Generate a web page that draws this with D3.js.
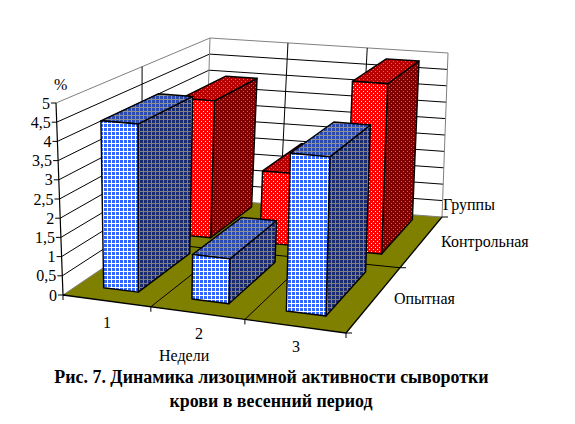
<!DOCTYPE html>
<html><head><meta charset="utf-8">
<script src="https://cdn.jsdelivr.net/npm/d3@7"></script>
<style>html,body{margin:0;padding:0;background:#fff}svg{display:block}text{font-family:"Liberation Serif",serif;fill:#000}</style>
</head><body><script>
const weeks = ["1","2","3"];
const groups = ["Опытная","Контрольная"];
const opytnaya = [4.4,1.15,4.0];
const kontrolnaya = [3.95,2.05,4.8];
const valueTicks = [0,0.5,1,1.5,2,2.5,3,3.5,4,4.5,5];
const tickLabels = ["0","0,5","1","1,5","2","2,5","3","3,5","4","4,5","5"];

const W=575,H=424;
const svg=d3.select("body").append("svg").attr("width",W).attr("height",H);
const floorQ=[[63,295],[346,333],[442,217],[205,199]];
const topQ=[[56,103],[350,128],[448,53],[210,38]];
function homography(q){
  const [[x0,y0],[x1,y1],[x2,y2],[x3,y3]]=q;
  const dx1=x1-x2,dx2=x3-x2,sx=x0-x1+x2-x3,dy1=y1-y2,dy2=y3-y2,sy=y0-y1+y2-y3;
  const den=dx1*dy2-dx2*dy1;
  const g=(sx*dy2-dx2*sy)/den,h=(dx1*sy-sx*dy1)/den;
  const a=x1-x0+g*x1,b=x3-x0+h*x3,d=y1-y0+g*y1,e=y3-y0+h*y3;
  return (u,v)=>{const w=g*u+h*v+1;return [(a*u+b*v+x0)/w,(d*u+e*v+y0)/w];};
}
const H0=homography(floorQ),H1=homography(topQ);
const zS=d3.scaleLinear().domain([0,5]).range([0,1]);
const uS=d3.scaleBand().domain(weeks).range([0,1]).paddingInner(0.6).paddingOuter(0.3);
const vS=d3.scaleBand().domain(groups).range([0,1]).paddingInner(0.314).paddingOuter(0.137).align(0.64);
const uWarp=d3.scaleLinear().domain([0,1/3,2/3,1]).range([0,0.342,0.675,1]);
function P(u,v,val){const w=uWarp(u),a=H0(w,v),b=H1(w,v),t=zS(val);return [a[0]+(b[0]-a[0])*t,a[1]+(b[1]-a[1])*t];}
const line=d3.line();

const defs=svg.append("defs");
function gridPat(id,bg,fg){
  const p=defs.append("pattern").attr("id",id).attr("patternUnits","userSpaceOnUse").attr("width",4).attr("height",4);
  p.append("rect").attr("width",4).attr("height",4).attr("fill",bg).attr("shape-rendering","crispEdges");
  p.append("rect").attr("x",3).attr("width",1).attr("height",4).attr("fill",fg).attr("shape-rendering","crispEdges");
  p.append("rect").attr("y",3).attr("width",4).attr("height",1).attr("fill",fg).attr("shape-rendering","crispEdges");
}
function dotPat(id,bg,fg){
  const p=defs.append("pattern").attr("id",id).attr("patternUnits","userSpaceOnUse").attr("width",4).attr("height",4);
  p.append("rect").attr("width",4).attr("height",4).attr("fill",bg).attr("shape-rendering","crispEdges");
  p.append("rect").attr("x",1).attr("y",1).attr("width",1).attr("height",1).attr("fill",fg).attr("shape-rendering","crispEdges");
  p.append("rect").attr("x",3).attr("y",3).attr("width",1).attr("height",1).attr("fill",fg).attr("shape-rendering","crispEdges");
}
gridPat("bF","#3366ff","#ffffff");gridPat("bS","#1a2a70","#808080");gridPat("bT","#2a4ab0","#909090");
dotPat("rF","#ff0000","#ffffff");dotPat("rS","#800000","#808080");dotPat("rT","#b80000","#a08080");

const gray="#808080";
function seg(a,b,c,w){svg.append("path").attr("d",line([a,b])).attr("stroke",c||"#000").attr("stroke-width",w||1).attr("fill","none");}

svg.append("path").attr("d",line(floorQ)+"Z").attr("fill","#808000");
valueTicks.slice(1).forEach(t=>{
  const c=t===5?gray:"#000";
  seg(P(0,0,t),P(0,1,t),c);
  seg(P(0,1,t),P(1,1,t),c);
});
seg(P(0,0.5,0),P(0,0.5,5),"#000");
seg(P(0,1,0),P(0,1,5),gray);
[1/3,2/3].forEach(u=>seg(P(u,1,0),P(u,1,5),"#000"));
seg(P(1,1,0),P(1,1,5),gray);
[1/3,2/3].forEach(u=>seg(P(u,0,0),P(u,1,0),"#000"));
seg(P(0,0.5,0),P(1,0.5,0),"#000");
seg(P(0,0,0),P(0,1,0),gray);
seg(P(0,1,0),P(1,1,0),gray);
seg(P(0,0,0),P(1,0,0),"#000",1.3);
seg(P(1,0,0),P(1,1,0),"#000",1.3);
seg(P(0,0,0),P(0,0,5),"#000",1.2);
valueTicks.forEach((t,i)=>{
  const p=P(0,0,t);
  seg([p[0]-5,p[1]],[p[0]+(t===0?3:0),p[1]],"#000");
  svg.append("text").attr("x",p[0]-6).attr("y",p[1]+5.5).attr("text-anchor","end").attr("font-size",16).text(tickLabels[i]);
});
[0,1/3,2/3,1].forEach(u=>{const p=P(u,0,0);seg(p,[p[0],p[1]+5],"#000");});
[0,0.5,1].forEach(v=>{const p=P(1,v,0);seg(p,[p[0]+6,p[1]],"#000");});

function bar(week,group,val,pre){
  const u0=uS(week),u1=u0+uS.bandwidth(),v0=vS(group),v1=v0+vS.bandwidth();
  const g=svg.append("g").attr("stroke","#000").attr("stroke-width",1.4).attr("stroke-linejoin","round");
  g.append("path").attr("d",line([P(u1,v0,0),P(u1,v1,0),P(u1,v1,val),P(u1,v0,val)])+"Z").attr("fill",`url(#${pre}S)`);
  g.append("path").attr("d",line([P(u0,v0,val),P(u1,v0,val),P(u1,v1,val),P(u0,v1,val)])+"Z").attr("fill",`url(#${pre}T)`);
  g.append("path").attr("d",line([P(u0,v0,0),P(u1,v0,0),P(u1,v0,val),P(u0,v0,val)])+"Z").attr("fill",`url(#${pre}F)`);
}
weeks.forEach((w,i)=>bar(w,groups[1],kontrolnaya[i],"r"));
weeks.forEach((w,i)=>bar(w,groups[0],opytnaya[i],"b"));

function T(x,y,s,size,anchor,extra){
  const t=svg.append("text").attr("x",x).attr("y",y).attr("font-size",size).attr("text-anchor",anchor||"start").text(s);
  if(extra)t.attr("font-weight",extra);return t;
}
T(54,90,"%",16);
const wx=[107,199,296],wy=[328,339,352];
weeks.forEach((w,i)=>T(wx[i],wy[i],w,16,"middle"));
T(159,361,"Недели",16);
T(443,210,"Группы",16);
T(441,247,groups[1],16);
T(394,304,groups[0],16);
T(271.5,383,"Рис. 7. Динамика лизоцимной активности сыворотки",17.9,"middle","bold");
T(271,407,"крови в весенний период",17.9,"middle","bold");
</script></body></html>
